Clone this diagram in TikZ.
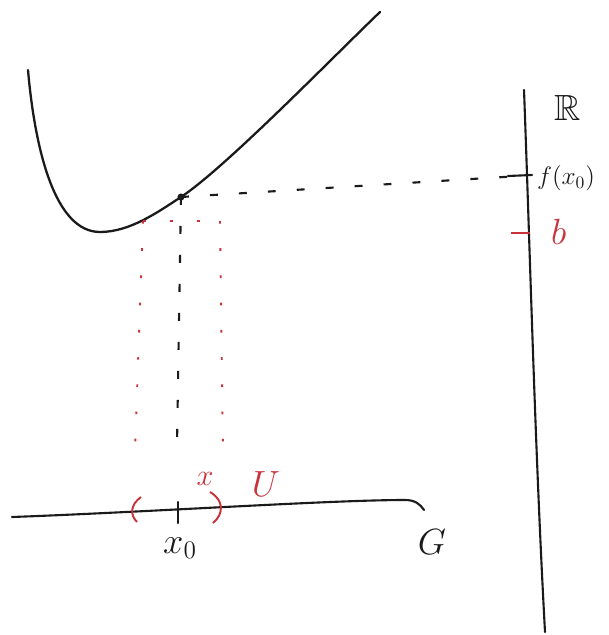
\documentclass[tikz,border=0pt]{standalone}
\usepackage{amsmath,amssymb}
\definecolor{ink}{HTML}{1A1A1A}
\definecolor{penred}{HTML}{C8323A}

\begin{document}
\begin{tikzpicture}[x=0.02cm, y=-0.02cm,
  curve/.style={ink, line width=1.3pt, line cap=round},
  axis/.style={ink, line width=1.2pt, line cap=round},
  dashed line/.style={ink, line width=1.2pt, dash pattern=on 4.5pt off 12pt},
  red dots/.style={penred, line width=1.1pt, dash pattern=on 1.5pt off 14pt},
  label/.style={ink, font=\huge},
  red label/.style={penred, font=\huge},
]
\useasboundingbox (0,0) rectangle (608,635);

% ===== graph of f =====
\draw[curve] (28,70) .. controls (35,150) and (55,232) .. (100,232)
  .. controls (130,232) and (158,212) .. (181,197)
  .. controls (225,168) and (330,60) .. (380,12);
\coordinate (fx0pt) at (181,197);
\fill[ink] (fx0pt) circle (2pt);

% ===== target line R =====
\coordinate (Rtop) at (524,90);
\coordinate (Rbot) at (545,632);
\draw[axis] (Rtop) .. controls (530,250) and (535,450) .. (Rbot);
\node[label, anchor=west] (Rlab) at (548,108) {$\mathbb{R}$};

% tick f(x_0)
\coordinate (fx0tick) at (520,176);
\draw[axis] (508,176) -- (532,175);
\node[ink, font=\Large, anchor=west, inner sep=1pt] (fx0lab) at (535,178) {$f(x_0)$};
\draw[dashed line] (fx0pt) -- (fx0tick);

% tick b
\draw[penred, line width=1.2pt] (511,233) -- (530,233);
\node[red label, anchor=west] (blab) at (545,232) {$b$};

% ===== domain G =====
\draw[axis] (12,517) .. controls (150,512) and (330,500) .. (405,500)
  .. controls (415,500) and (420,504) .. (424,510);
\node[label] (Glab) at (432,542) {$G$};

% tick x_0
\coordinate (x0) at (178,513);
\draw[axis] (178,502) -- (178,523);
\node[label] (x0lab) at (180,548) {$x_0$};
\draw[dashed line] (fx0pt) -- (177,445);

% ===== neighbourhood U =====
\draw[red dots] (143,221) -- (218,221);
\draw[red dots] (143,221) -- (135,450);
\draw[red dots] (220,221) -- (223,455);
\draw[penred, line width=1.1pt] (141,497) .. controls (130,505) and (130,515) .. (137,522);
\draw[penred, line width=1.1pt] (210,492) .. controls (224,500) and (224,514) .. (213,523);
\node[penred, font=\LARGE] (xlab) at (205,479) {$x$};
\node[red label] (Ulab) at (266,484) {$U$};
\end{tikzpicture}
\end{document}
